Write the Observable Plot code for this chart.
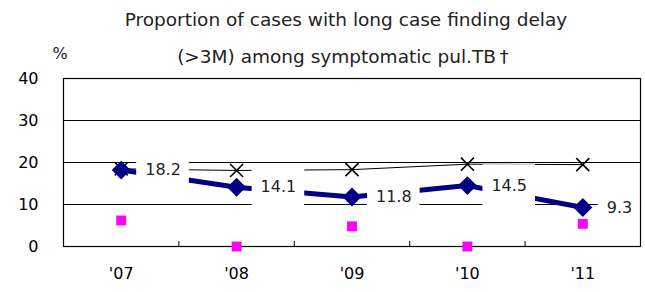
<!DOCTYPE html>
<html>
<head>
<meta charset="utf-8">
<script src="https://cdn.jsdelivr.net/npm/d3@7"></script>
<script src="https://cdn.jsdelivr.net/npm/@observablehq/plot@0.6"></script>
<style>
  html, body { margin: 0; padding: 0; background: #fff; }
  #chart { position: relative; width: 645px; height: 292px; }
</style>
</head>
<body>
<div id="chart"></div>
<script>
// ---- data ----
const years = ["'07", "'08", "'09", "'10", "'11"];
const longDelay = [18.2, 14.1, 11.8, 14.5, 9.3];      // navy line, labelled
const otherSeries = [18.5, 18.1, 18.3, 19.6, 19.5];   // black line with x markers
const magentaSeries = [6.2, 0, 4.8, 0, 5.4];          // magenta squares
const yTicks = [0, 10, 20, 30, 40];
const titleLines = ["Proportion of cases with long case finding delay", "(>3M) among symptomatic pul.TB\u2009\u2020"];
const yUnit = "%";

const idx = years.map((_, i) => i);
const boundaries = years.slice(1).map((_, i) => i + 0.5);
const navy = "#000080";
const magenta = "#FF00FF";

const plot = Plot.plot({
  width: 645,
  height: 292,
  marginTop: 78,
  marginBottom: 46,
  marginLeft: 63,
  marginRight: 5,
  style: { fontFamily: "DejaVu Sans", fontSize: "16px", color: "#000", background: "#fff" },
  x: { type: "linear", domain: [-0.5, years.length - 0.5] },
  y: { domain: [0, 40] },
  marks: [
    Plot.gridY([10, 20, 30], { stroke: "#000", strokeOpacity: 1, strokeWidth: 1 }),
    Plot.axisY({ ticks: yTicks, tickSize: 0, tickPadding: 25, label: null, fontSize: 16 }),
    Plot.axisX({ ticks: idx, tickFormat: i => years[i], tickSize: 0, tickPadding: 21, label: null, fontSize: 16 }),
    Plot.tickX(boundaries, { x: d => d, stroke: "#000", insetTop: 163 }),
    Plot.line(idx, { x: i => i, y: i => otherSeries[i], stroke: "#000", strokeWidth: 1 }),
    Plot.dot(idx, { x: i => i, y: i => otherSeries[i], symbol: "times", r: 6, stroke: "#000", strokeWidth: 1.6 }),
    Plot.line(idx, { x: i => i, y: i => longDelay[i], stroke: navy, strokeWidth: 5 }),
    Plot.dot(idx, { x: i => i, y: i => longDelay[i], symbol: "diamond2", r: 8.5, fill: navy, stroke: "none" }),
    Plot.text(idx, { x: i => i, y: i => longDelay[i], text: i => longDelay[i].toFixed(1), textAnchor: "start", dx: 24, fontSize: 16, fill: "#222" }),
    Plot.frame({ stroke: "#000", strokeWidth: 1.2 }),
    Plot.dot(idx, { x: i => i, y: i => magentaSeries[i], symbol: "square", r: 5.6, fill: magenta, stroke: "none" })
  ]
});

const chart = document.getElementById("chart");
chart.appendChild(plot);

const svg = d3.select(plot);
// white label boxes behind the value labels (inside the same group so dx applies)
svg.selectAll('g[aria-label="text"]').each(function () {
  const g = this;
  const texts = Array.from(g.querySelectorAll("text"));
  texts.forEach(function (el) {
    const b = el.getBBox();
    const t = el.getAttribute("transform");
    const cy = b.y + b.height / 2;
    const rect = document.createElementNS("http://www.w3.org/2000/svg", "rect");
    if (t) rect.setAttribute("transform", t);
    rect.setAttribute("x", b.x - 9);
    rect.setAttribute("y", cy - 21);
    rect.setAttribute("width", b.width + 17);
    rect.setAttribute("height", 42);
    rect.setAttribute("fill", "#fff");
    rect.setAttribute("stroke", "none");
    g.insertBefore(rect, g.firstChild);
  });
});

// title and unit
svg.append("text")
  .attr("x", 346).attr("y", 26)
  .attr("text-anchor", "middle")
  .attr("font-family", "DejaVu Sans").attr("font-size", 18.5).attr("fill", "#222")
  .text(titleLines[0]);
svg.append("text")
  .attr("x", 343).attr("y", 63)
  .attr("text-anchor", "middle")
  .attr("font-family", "DejaVu Sans").attr("font-size", 18.5).attr("fill", "#222")
  .text(titleLines[1]);
svg.append("text")
  .attr("x", 60).attr("y", 59)
  .attr("text-anchor", "middle")
  .attr("font-family", "DejaVu Sans").attr("font-size", 16).attr("fill", "#222")
  .text(yUnit);
</script>
</body>
</html>
